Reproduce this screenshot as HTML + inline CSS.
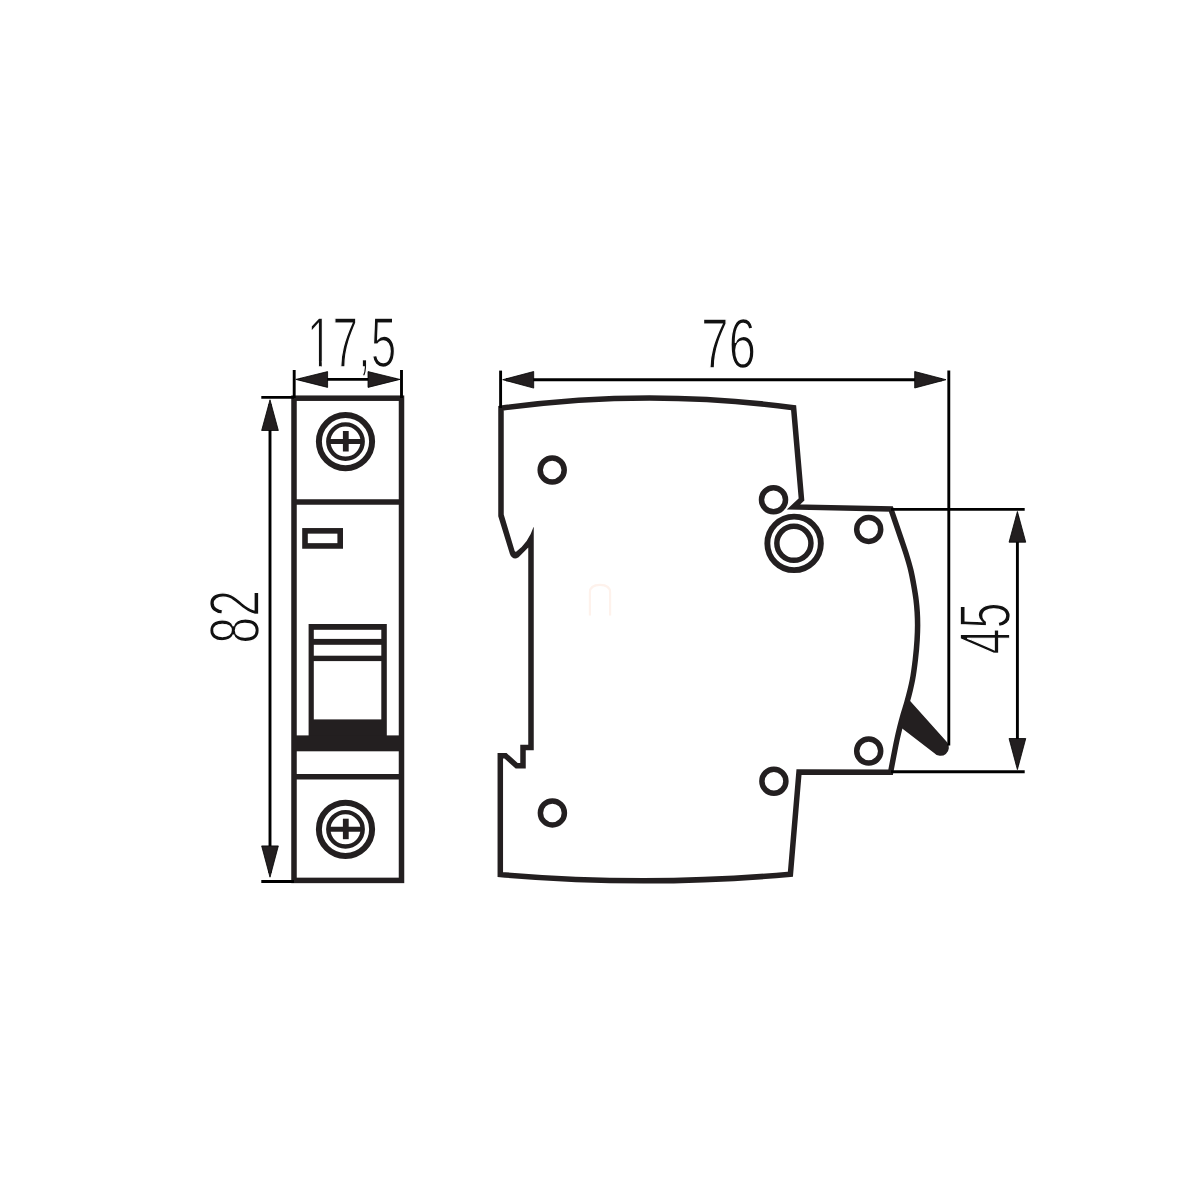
<!DOCTYPE html>
<html lang="en">
<head>
<meta charset="utf-8">
<title>Circuit breaker dimensions</title>
<style>
html,body{margin:0;padding:0;background:#fff;}
body{width:1200px;height:1200px;overflow:hidden;font-family:"Liberation Sans",sans-serif;}
svg{display:block;}
.b{fill:none;stroke:#231f20;stroke-width:5.5;stroke-linejoin:miter;stroke-miterlimit:10;}
.d{fill:none;stroke:#000;stroke-width:2.9;}
.a{fill:#231f20;stroke:#000;stroke-width:0.8;stroke-linejoin:miter;}
.k{fill:#231f20;stroke:none;}
.w{fill:#fff;stroke:none;}
.t{font-family:"Liberation Sans",sans-serif;font-size:69px;fill:#111;stroke:#fff;stroke-width:1.7px;paint-order:fill stroke;}
</style>
</head>
<body>
<svg width="1200" height="1200" viewBox="0 0 1200 1200">
<rect class="w" x="0" y="0" width="1200" height="1200"/>

<!-- faint watermark -->
<path d="M589.9,615.6 V592.5 C589.9,586.5 594,584.9 600,584.9 C606,584.9 610.1,586.5 610.1,592.5 V615.6" fill="none" stroke="#fef2ec" stroke-width="2.2"/>

<defs>
  <clipPath id="trim" clipPathUnits="userSpaceOnUse"><path clip-rule="evenodd" d="M0,0H1200V1200H0Z M308,361H318.95V368H308Z M321.76,361H332V368H321.76Z"/></clipPath>
</defs>

<!-- dimension labels -->
<g>
  <g clip-path="url(#trim)"><text class="t" transform="translate(306.8,366.6) scale(0.649,1)" style="font-size:70.9px">17,5</text></g>
  <text class="t" transform="translate(259,643.7) rotate(-90) scale(0.692,1)" style="font-size:69.8px">82</text>
  <text class="t" transform="translate(700.9,367.8) scale(0.7064,1)" style="font-size:70.3px">76</text>
  <text class="t" transform="translate(1010.2,654.4) rotate(-90) scale(0.648,1)" style="font-size:71.9px">45</text>
</g>

<!-- ===== front view ===== -->
<g>
  <rect class="b" x="294" y="398.2" width="107.5" height="482.2"/>
  <line class="b" x1="294" y1="502" x2="401.5" y2="502"/>
  <line class="b" x1="294" y1="776.8" x2="401.5" y2="776.8"/>
  <!-- top screw -->
  <circle class="b" cx="345.5" cy="441.6" r="26.6" style="stroke-width:6"/>
  <circle class="b" cx="345.5" cy="441.6" r="17.2" style="stroke-width:4.4"/>
  <line class="b" x1="328" y1="441.5" x2="363" y2="441.5" style="stroke-width:5"/>
  <line class="b" x1="345.8" y1="431" x2="345.8" y2="451.5" style="stroke-width:5.8"/>
  <!-- bottom screw -->
  <circle class="b" cx="345.5" cy="829.3" r="26.6" style="stroke-width:6"/>
  <circle class="b" cx="345.5" cy="829.3" r="17.2" style="stroke-width:4.4"/>
  <line class="b" x1="328" y1="829.2" x2="363" y2="829.2" style="stroke-width:5"/>
  <line class="b" x1="345.8" y1="818.7" x2="345.8" y2="839.2" style="stroke-width:5.8"/>
  <!-- indicator window -->
  <rect class="b" x="305" y="530.85" width="35.2" height="15.1" style="stroke-width:5.6"/>
  <!-- toggle -->
  <rect class="k" x="308.6" y="624" width="78.2" height="120"/>
  <rect class="k" x="294" y="735.4" width="107.5" height="15.9"/>
  <rect class="w" x="313.8" y="629.8" width="67.5" height="9.1"/>
  <rect class="w" x="313.8" y="644.8" width="67.5" height="10.9"/>
  <rect class="w" x="313.8" y="661.1" width="67.5" height="58.3"/>
</g>

<!-- dimension 17,5 -->
<g>
  <line class="d" x1="294.2" y1="370" x2="294.2" y2="398"/>
  <line class="d" x1="401.5" y1="370" x2="401.5" y2="398"/>
  <line class="d" x1="300" y1="379.4" x2="396" y2="379.4"/>
  <path class="a" d="M295.8,379.4 L327.6,371.6 L327.6,387.4 Z"/>
  <path class="a" d="M400,379.4 L368,371.6 L368,387.4 Z"/>
</g>

<!-- dimension 82 -->
<g>
  <line class="d" x1="261.3" y1="397.4" x2="294" y2="397.4"/>
  <line class="d" x1="261.3" y1="881.5" x2="294" y2="881.5"/>
  <line class="d" x1="270" y1="404" x2="270" y2="873"/>
  <path class="a" d="M270,399.8 L261.65,430.5 L278.35,430.5 Z"/>
  <path class="a" d="M270,877.2 L261.65,845.9 L278.35,845.9 Z"/>
</g>

<!-- ===== side view ===== -->
<g>
  <path class="b" d="M501,505 L501,408.3 A1078,1078 0 0 1 793.6,407.7 L801.5,499.5 L793.6,506.9 L890.9,509 C894.43,519.33 897.97,529.67 901.50,540.00 C903.21,545.00 904.96,550.00 906.50,555.00 C908.04,560.00 909.54,565.00 910.75,570.00 C911.96,575.00 912.86,580.00 913.75,585.00 C914.64,590.00 915.50,595.00 916.10,600.00 C916.58,604.00 916.95,608.00 917.20,612.00 C917.47,616.33 917.60,620.67 917.60,625.00 C917.61,630.00 917.39,635.00 917.10,640.00 C916.72,646.67 916.08,653.33 915.30,660.00 C914.52,666.67 913.70,673.33 912.40,680.00 C911.75,683.33 911.00,686.67 910.20,690.00 C909.20,694.17 908.08,698.33 906.90,702.50 C905.72,706.67 904.28,710.83 903.10,715.00 C901.92,719.17 900.83,723.33 899.80,727.50 C898.77,731.67 897.81,735.83 896.90,740.00 C895.81,745.00 894.88,750.00 893.90,755.00 C892.77,760.77 891.70,766.53 890.60,772.30 L799,772 L790.4,874.2 A1632,1632 0 0 1 500.3,874.5 L500.3,755.8 L505.5,755.8 L516.7,765.8 L523,765.8 L523,747.5 L531,747.5 L531,557"/>
  <path class="k" d="M498.25,505 L498.25,516.3 L509.9,554 Q511.9,559.3 516.6,558.3 L518.6,557.2 L528.25,547.5 L528.25,557 L533.75,557 L533.75,527.3 L533.5,527.1 Q528.6,542.4 516.4,551.6 Q515.2,552.4 514.6,550.8 L503.75,514.6 L503.75,505 Z"/>
  <!-- handle -->
  <path class="k" d="M908.6,699.2 L946.9,742.1 A8.3,8.3 0 0 1 934.1,752.9 L901.9,728.3 L899.5,727 L906.5,699 Z"/>
  <!-- holes -->
  <circle class="b" cx="552.2" cy="470" r="12" style="stroke-width:5.5"/>
  <circle class="b" cx="552.4" cy="812.9" r="12" style="stroke-width:5.5"/>
  <circle class="b" cx="773.5" cy="499.7" r="12" style="stroke-width:5.5"/>
  <circle class="b" cx="773.9" cy="781.2" r="12" style="stroke-width:5.5"/>
  <circle class="b" cx="868.7" cy="529.4" r="12" style="stroke-width:5.5"/>
  <circle class="b" cx="868.7" cy="751" r="12" style="stroke-width:5.5"/>
  <circle class="b" cx="794.1" cy="543.4" r="26.75" style="stroke-width:5.9"/>
  <circle class="b" cx="793.9" cy="543.3" r="17.05" style="stroke-width:5.5"/>
</g>

<!-- dimension 76 -->
<g>
  <line class="d" x1="500.6" y1="370.6" x2="500.6" y2="408"/>
  <line class="d" x1="948.8" y1="370.4" x2="948.8" y2="745.5"/>
  <line class="d" x1="506" y1="379.7" x2="942" y2="379.7"/>
  <path class="a" d="M502.7,379.7 L533.7,371.5 L533.7,388.1 Z"/>
  <path class="a" d="M946,379.7 L914.7,371.5 L914.7,388 Z"/>
</g>

<!-- dimension 45 -->
<g>
  <line class="d" x1="891" y1="509.35" x2="1024.7" y2="509.35"/>
  <line class="d" x1="891" y1="771.8" x2="1024.7" y2="771.8" style="stroke-width:3.1"/>
  <line class="d" x1="1017.4" y1="516" x2="1017.4" y2="765"/>
  <path class="a" d="M1017.4,511.5 L1009.05,542.2 L1025.75,542.2 Z"/>
  <path class="a" d="M1017.4,769.6 L1009.05,738.5 L1025.75,738.5 Z"/>
</g>
</svg>
</body>
</html>
